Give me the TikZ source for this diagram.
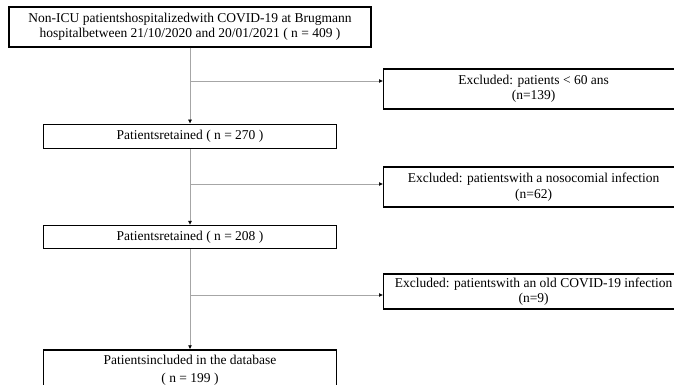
\documentclass[tikz,border=0pt]{standalone}
\usepackage{fontspec}
\setmainfont{Liberation Serif}
\usepackage{tikz}
\usetikzlibrary{positioning, arrows.meta}

\begin{document}
\begin{tikzpicture}[
    x=1pt, y=-1pt,
    font=\fontsize{13.5}{14.5}\selectfont,
    mainbox/.style={rectangle, draw, line width=1.3pt, align=center, inner sep=0pt},
    stagebox/.style={mainbox, minimum width=293pt},
    exclbox/.style={mainbox, minimum width=300pt, anchor=west},
    flow/.style={draw=gray!70, line width=0.7pt, -{Latex[length=4pt, width=4pt, color=black]}}
]
\useasboundingbox (0,0) rectangle (674,385);
\clip (0,0) rectangle (674,385);

% Main stages
\node[mainbox, minimum width=362pt, minimum height=40pt] (cohort) at (190,27)
    {Non-ICU patientshospitalizedwith COVID-19 at Brugmann\\
     hospitalbetween 21/10/2020 and 20/01/2021 ( n = 409 )};
\node[stagebox, minimum height=24pt, below=76pt of cohort] (kept1) {Patientsretained ( n = 270 )};
\node[stagebox, minimum height=23pt, below=76pt of kept1] (kept2) {Patientsretained ( n = 208 )};
\node[stagebox, minimum height=41pt, below=100pt of kept2] (final)
    {Patientsincluded in the database\\[3pt] ( n = 199 )};

% Exclusions
\node[exclbox, minimum height=40pt] (excl1) at (383,89) {Excluded: patients < 60 ans\\ (n=139)};
\node[exclbox, minimum height=40pt] (excl2) at (383,187) {Excluded: patientswith a nosocomial infection\\[1pt] (n=62)};
\node[exclbox, minimum height=35pt] (excl3) at (383,291.5) {Excluded: patientswith an old COVID-19 infection\\ (n=9)};

% Branch points
\coordinate (split1) at (kept1.north |- 0,81);
\coordinate (split2) at (kept1.north |- 0,184);
\coordinate (split3) at (kept1.north |- 0,295);

% Connectors
\draw[flow] (cohort.south -| kept1.north) -- (kept1);
\draw[flow] (kept1) -- (kept2);
\draw[flow] (kept2) -- (final);
\draw[flow] (split1) -- (split1 -| excl1.west);
\draw[flow] (split2) -- (split2 -| excl2.west);
\draw[flow] (split3) -- (split3 -| excl3.west);

\end{tikzpicture}
\end{document}
